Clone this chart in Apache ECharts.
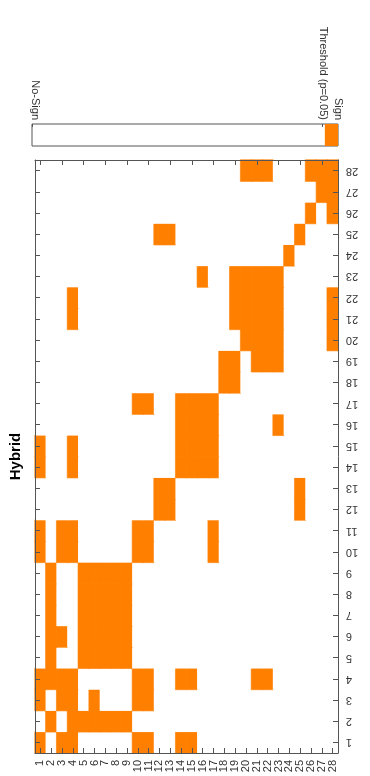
<!DOCTYPE html>
<html>
<head>
<meta charset="utf-8">
<script src="https://cdn.jsdelivr.net/npm/echarts@6/dist/echarts.min.js"></script>
<style>html,body{margin:0;padding:0;background:#fff}#c{width:370px;height:776px}</style>
</head>
<body>
<div id="c"></div>
<script>
const categories = ['1','2','3','4','5','6','7','8','9','10','11','12','13','14','15','16','17','18','19','20','21','22','23','24','25','26','27','28'];
const titleText = 'Hybrid';
// significant columns (1-based) for each row, row 1 (bottom) .. row 28 (top)
const signRows = [
  [1,3,4,10,11,14,15],
  [2,4,5,6,7,8,9],
  [1,3,4,6,10,11],
  [1,2,3,4,10,11,14,15,21,22],
  [2,5,6,7,8,9],
  [2,3,5,6,7,8,9],
  [2,5,6,7,8,9],
  [2,5,6,7,8,9],
  [2,5,6,7,8,9],
  [1,3,4,10,11,17],
  [1,3,4,10,11,17],
  [12,13,25],
  [12,13,25],
  [1,4,14,15,16,17],
  [1,4,14,15,16,17],
  [14,15,16,17,23],
  [10,11,14,15,16,17],
  [18,19],
  [18,19,21,22,23],
  [20,21,22,23,28],
  [4,19,20,21,22,23,28],
  [4,19,20,21,22,23,28],
  [16,19,20,21,22,23],
  [24],
  [12,13,25],
  [26,28],
  [27,28],
  [20,21,22,26,27,28]
];
const legendLabels = ['No-Sign','Threshold (p=0.05)','Sign'];
const legendLabelValues = [0.01, 0.95, 1];
const legendTickValues = [0, 0.95];
const legendSegments = [0.957, 0.043];

const FONT = "'Liberation Sans', Arial, sans-serif";
const AX = '#555';
const ORANGE = '#ff8000';

const cells = [];
for (let r = 0; r < categories.length; r++) {
  for (let c = 0; c < categories.length; c++) {
    const s = signRows[r].indexOf(c + 1) >= 0;
    cells.push(s
      ? {value: [c, r, 1], itemStyle: {borderColor: ORANGE, borderWidth: 0.6}}
      : {value: [c, r, 0]});
  }
}

const chart = echarts.init(document.getElementById('c'), null, {renderer: 'canvas'});
const tickCommon = {show: true, inside: true, alignWithLabel: true, length: 5, lineStyle: {color: AX}};
chart.setOption({
  animation: false,
  backgroundColor: '#fff',
  textStyle: {fontFamily: FONT},
  grid: [
    {left: 32, right: 32, top: 160, bottom: 23},
    {left: 32, right: 32, top: 124, height: 22, show: true, borderColor: AX, borderWidth: 1, backgroundColor: '#fff'}
  ],
  visualMap: {
    show: false, type: 'piecewise', seriesIndex: 0, dimension: 2,
    pieces: [{value: 0, color: '#ffffff'}, {value: 1, color: ORANGE}]
  },
  xAxis: [
    {gridIndex: 0, type: 'category', data: categories, position: 'bottom', z: 5,
     axisLine: {show: true, lineStyle: {color: AX}}, axisTick: tickCommon,
     axisLabel: {interval: 0, rotate: 90, margin: 7, fontSize: 11, color: '#333', fontFamily: FONT},
     splitLine: {show: false}},
    {gridIndex: 0, type: 'category', data: categories, position: 'top', z: 5,
     axisLine: {show: true, lineStyle: {color: AX}}, axisTick: tickCommon,
     axisLabel: {show: false}, splitLine: {show: false}},
    {gridIndex: 1, type: 'value', min: 0, max: 1, position: 'top', z: 5,
     axisLine: {show: false},
     axisTick: {show: true, inside: true, length: 3, customValues: legendTickValues, lineStyle: {color: AX}},
     axisLabel: {show: true, customValues: legendLabelValues, rotate: 90, margin: 4, fontSize: 11, color: '#333', fontFamily: FONT,
       formatter: function (v) {
         let best = 0, d = 1e9;
         legendLabelValues.forEach(function (lv, i) { if (Math.abs(lv - v) < d) { d = Math.abs(lv - v); best = i; } });
         return legendLabels[best];
       }},
     splitLine: {show: false}}
  ],
  yAxis: [
    {gridIndex: 0, type: 'category', data: categories, position: 'right', z: 5,
     axisLine: {show: true, lineStyle: {color: AX}}, axisTick: tickCommon,
     axisLabel: {show: false},
     splitLine: {show: false}},
    {gridIndex: 0, type: 'category', data: categories, position: 'left', z: 5,
     axisLine: {show: true, lineStyle: {color: AX}}, axisTick: tickCommon,
     axisLabel: {show: false}, splitLine: {show: false},
     name: titleText, nameLocation: 'middle', nameRotate: 90, nameGap: 12,
     nameTextStyle: {fontWeight: 'bold', fontSize: 15, color: '#000', fontFamily: FONT}},
    {gridIndex: 1, type: 'category', data: ['cb'], show: false}
  ],
  series: [
    {type: 'heatmap', xAxisIndex: 0, yAxisIndex: 0, data: cells, z: 1,
     emphasis: {disabled: true}, label: {show: false}},
    {type: 'bar', xAxisIndex: 2, yAxisIndex: 2, stack: 'cb', barWidth: '100%', silent: true,
     data: [legendSegments[0]], itemStyle: {color: 'rgba(0,0,0,0)'}},
    {type: 'bar', xAxisIndex: 2, yAxisIndex: 2, stack: 'cb', barWidth: '100%', silent: true,
     data: [legendSegments[1]], itemStyle: {color: ORANGE}}
  ]
});

// tick labels of the right-hand category axis (upside-down, as in the rotated original), placed through the axis scale
const n = categories.length;
const pLast = chart.convertToPixel({xAxisIndex: 0, yAxisIndex: 0}, [categories[n - 1], categories[0]]);
const pPrev = chart.convertToPixel({xAxisIndex: 0, yAxisIndex: 0}, [categories[n - 2], categories[0]]);
const band = pLast[0] - pPrev[0];
const labelX = pLast[0] + band / 2 + 8;
const labelEls = categories.map(function (cat) {
  const y = chart.convertToPixel({yAxisIndex: 0}, cat);
  return {
    type: 'text', x: labelX, y: y, rotation: Math.PI, silent: true,
    style: {text: cat, fontSize: 11, fontFamily: FONT, fill: '#333', align: 'right', verticalAlign: 'middle'}
  };
});
chart.setOption({graphic: {elements: labelEls}});
</script>
</body>
</html>
